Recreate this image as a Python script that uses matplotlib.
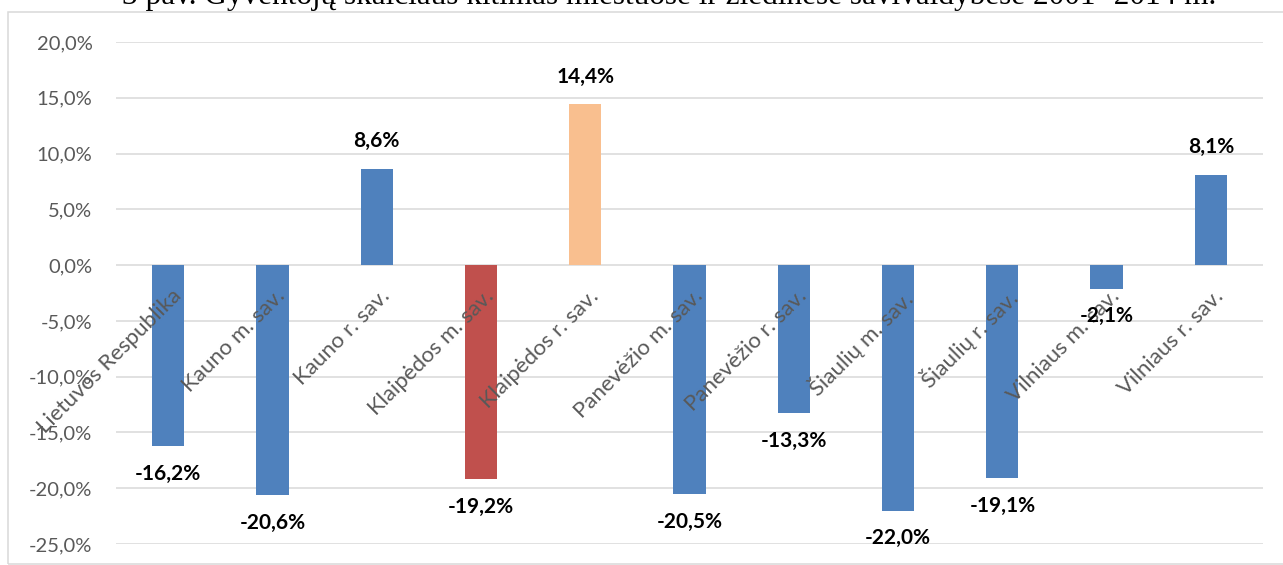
import matplotlib
matplotlib.use("Agg")
import matplotlib.pyplot as plt
from matplotlib.patches import Rectangle

# data
categories = ['Lietuvos Respublika', 'Kauno m. sav.', 'Kauno r. sav.',
              'Klaipėdos m. sav.', 'Klaipėdos r. sav.', 'Panevėžio m. sav.',
              'Panevėžio r. sav.', 'Šiaulių m. sav.', 'Šiaulių r. sav.',
              'Vilniaus m. sav.', 'Vilniaus r. sav.']
values = [-16.2, -20.6, 8.6, -19.2, 14.4, -20.5, -13.3, -22.0, -19.1, -2.1, 8.1]
bar_colors = ['#4F81BD', '#4F81BD', '#4F81BD', '#C0504D', '#F9BF8F', '#4F81BD',
              '#4F81BD', '#4F81BD', '#4F81BD', '#4F81BD', '#4F81BD']
yticks = [20, 15, 10, 5, 0, -5, -10, -15, -20, -25]
title = '3 pav. Gyventojų skaičiaus kitimas miestuose ir žiedinėse savivaldybėse 2001- 2014 m.'

W, H = 1283, 565
fig = plt.figure(figsize=(W / 100, H / 100), dpi=100)
ax = fig.add_axes([116 / W, (H - 544) / H, (1263 - 116) / W, (544 - 42) / H])

x = list(range(len(categories)))
ax.bar(x, values, width=0.31, color=bar_colors, edgecolor='none', zorder=3)

ax.set_xlim(-0.5, len(categories) - 0.5)
ax.set_ylim(-25, 20)
ax.set_yticks(yticks)
ax.set_yticklabels([f'{v:.1f}%'.replace('.', ',') for v in yticks],
                   fontsize=14.5, color='#595959', family='Lato')
ax.tick_params(axis='y', length=0, pad=17)
ax.set_xticks([])
ax.grid(axis='y', color='#D9D9D9', linewidth=1.1, zorder=0)
for s in ax.spines.values():
    s.set_visible(False)

# category labels at the zero line, rotated
for i, name in enumerate(categories):
    ax.annotate(name, (i, 0), xytext=(2, -15), textcoords='offset points',
                rotation=45, rotation_mode='anchor', ha='right', va='top',
                fontsize=16, color='#595959', family='Lato')

# value labels
for i, v in enumerate(values):
    off = 20 if v > 0 else -20
    ax.annotate(f'{v:.1f}%'.replace('.', ','), (i, v), xytext=(0, off),
                textcoords='offset points', ha='center', va='center',
                fontsize=15, fontweight='bold', color='black', family='Lato',
                zorder=5)

# chart border
fig.add_artist(Rectangle((8 / W, 1 / H), 1.1, (H - 12 - 1) / H, transform=fig.transFigure,
                         fill=False, edgecolor='#D9D9D9', linewidth=1.1))

fig.text(669 / W, 1 - 4 / H, title, ha='center', va='baseline',
         fontsize=22.5, family='Liberation Serif', color='black')

fig.savefig('out.png', dpi=100)
